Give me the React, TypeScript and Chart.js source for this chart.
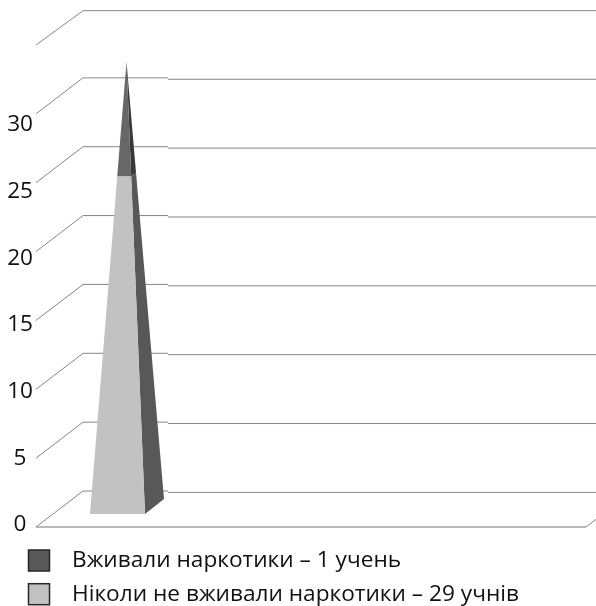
import React, { useEffect, useRef } from "react";
import { Chart, registerables } from "chart.js";

Chart.register(...registerables);

const categories = ["", "", "", "", ""];
const neverUsed = [24.1, null, null, null, null];
const usedOnce = [8.2, null, null, null, null];
const seriesNames = ["Ніколи не вживали наркотики – 29 учнів", "Вживали наркотики – 1 учень"];
const tickValues = [0, 5, 10, 15, 20, 25, 30];

const FONT = '"Open Sans", sans-serif';
const DEPTH_X = 47;
const DEPTH_Y = 36;

const wallPlugin = {
  id: "wall",
  beforeDatasetsDraw(chart: any) {
    const { ctx, chartArea: a, scales } = chart;
    const y = scales.y;
    ctx.save();
    ctx.lineWidth = 1;
    ctx.strokeStyle = "#858585";
    for (const t of y.ticks) {
      const py = y.getPixelForValue(t.value);
      const isTop = t.value === 35;
      const by = py - DEPTH_Y + (isTop ? 1.7 : 0);
      const step = isTop ? 0 : 1.4;
      ctx.beginPath();
      ctx.moveTo(a.left, py);
      ctx.lineTo(a.left + DEPTH_X, by);
      ctx.lineTo(a.left + 132, by);
      ctx.stroke();
      ctx.beginPath();
      ctx.moveTo(a.left + 132, by + step);
      ctx.lineTo(a.right + DEPTH_X, by + step);
      ctx.stroke();
    }
    const y0 = y.getPixelForValue(0);
    ctx.strokeStyle = "#a0a0a0";
    ctx.lineWidth = 1.4;
    ctx.beginPath();
    ctx.moveTo(a.left, y0);
    ctx.lineTo(a.right, y0);
    ctx.stroke();
    ctx.lineWidth = 1;
    ctx.strokeStyle = "#858585";
    ctx.beginPath();
    ctx.moveTo(a.right, y0);
    ctx.lineTo(a.right + DEPTH_X, y0 - DEPTH_Y);
    ctx.stroke();
    ctx.restore();
  },
  beforeDatasetDraw() {
    return false;
  },
  afterDatasetsDraw(chart: any) {
    const { ctx } = chart;
    const lower = chart.getDatasetMeta(0).data[0];
    const upper = chart.getDatasetMeta(1).data[0];
    const cx = lower.x + 26.5;
    const baseY = lower.base - 13;
    const hw = lower.width / 2;
    const apex = { x: cx + 9, y: upper.y - 20.5 };
    const t = (lower.base - lower.y) / (lower.base - upper.y);
    const fl = { x: cx - hw, y: baseY };
    const fr = { x: cx + hw, y: baseY };
    const br = { x: cx + hw + 19, y: baseY - 15 };
    const mix = (p: any) => ({ x: p.x + (apex.x - p.x) * t, y: p.y + (apex.y - p.y) * t });
    const cfl = mix(fl);
    const cfr = mix(fr);
    const cbr = mix(br);
    const poly = (pts: any[], c: string) => {
      ctx.beginPath();
      pts.forEach((p, i) => (i ? ctx.lineTo(p.x, p.y) : ctx.moveTo(p.x, p.y)));
      ctx.closePath();
      ctx.fillStyle = c;
      ctx.fill();
    };
    ctx.save();
    poly([cfr, cbr, apex], "#383838");
    poly([cfl, cfr, apex], "#676767");
    poly([fr, br, cbr, cfr], "#585858");
    poly([fl, fr, cfr, cfl], "#c2c2c2");
    ctx.restore();
  },
  afterDraw(chart: any) {
    const { ctx } = chart;
    const order = [1, 0];
    ctx.save();
    order.forEach((di, row) => {
      const ds = chart.data.datasets[di];
      const top = 550 + row * 33.7;
      ctx.fillStyle = ds.backgroundColor;
      ctx.strokeStyle = ds.borderColor;
      ctx.lineWidth = ds.borderWidth;
      ctx.fillRect(28.5, top, 21, 21);
      ctx.strokeRect(28.5, top, 21, 21);
      ctx.fillStyle = "#111";
      ctx.font = `22.65px ${FONT}`;
      ctx.textAlign = "left";
      ctx.textBaseline = "middle";
      ctx.fillText(ds.label, 72, top + 11);
    });
    ctx.restore();
  },
};

export default function App() {
  const ref = useRef<HTMLCanvasElement>(null);
  useEffect(() => {
    const chart = new Chart(ref.current as HTMLCanvasElement, {
      type: "bar",
      data: {
        labels: categories,
        datasets: [
          { label: seriesNames[0], data: neverUsed, backgroundColor: "#c2c2c2", borderColor: "#262626", borderWidth: 1.5 },
          { label: seriesNames[1], data: usedOnce, backgroundColor: "#585858", borderColor: "#262626", borderWidth: 1.5 },
        ],
      },
      options: {
        responsive: false,
        animation: false,
        devicePixelRatio: 1,
        datasets: { bar: { barPercentage: 0.5, categoryPercentage: 1 } },
        layout: { padding: { top: 45, right: 10, left: 0, bottom: 79 } },
        plugins: {
          tooltip: { enabled: false },
          legend: { display: false },
        },
        scales: {
          x: { display: false, stacked: true },
          y: { display: false, stacked: true, min: 0, max: 35, ticks: { stepSize: 5 } },
          yLabels: {
            position: "left",
            min: -0.15,
            max: 35.98,
            grid: { display: false, drawTicks: false },
            border: { display: false },
            afterBuildTicks: (s: any) => {
              s.ticks = tickValues.map((value) => ({ value }));
            },
            afterFit: (s: any) => {
              s.width = 36;
            },
            ticks: {
              padding: 3,
              crossAlign: "center",
              color: "#111",
              font: { family: FONT, size: 22.6 },
              callback: (v: any) => String(v),
            },
          },
        },
      } as any,
      plugins: [wallPlugin],
    });
    return () => chart.destroy();
  }, []);
  return (
    <div style={{ position: "absolute", left: 0, top: 0, width: 596, height: 606 }}>
      <canvas ref={ref} width={596} height={606} style={{ display: "block" }} />
    </div>
  );
}
